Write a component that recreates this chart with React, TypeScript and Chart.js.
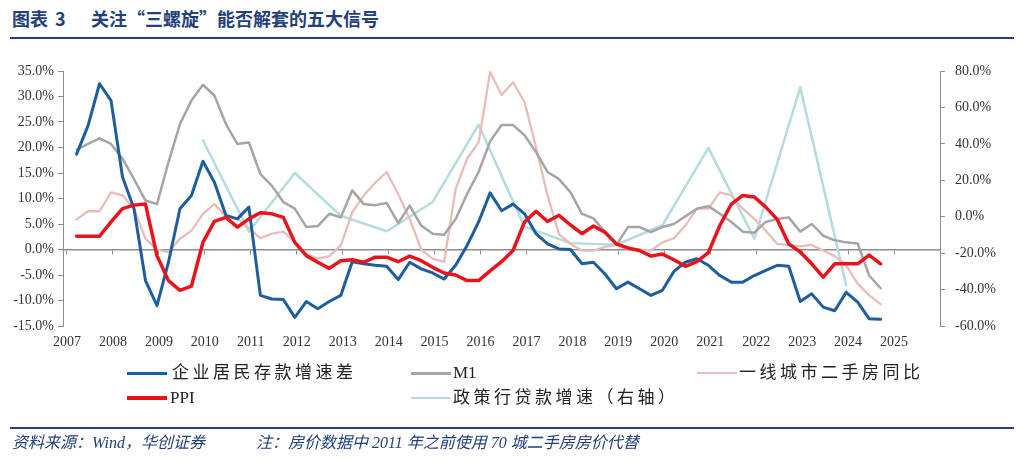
import React, { useEffect, useRef } from 'react';
import { Chart, registerables } from 'chart.js';

Chart.register(...registerables);

// ---------- text ----------
const TITLE_NO = '图表 3';
const TITLE_TEXT = '关注“三螺旋”能否解套的五大信号';
const SOURCE_TEXT = '资料来源：Wind，华创证券';
const NOTE_TEXT = '注：房价数据中 2011 年之前使用 70 城二手房房价代替';

const NAME_DEPOSIT = '企业居民存款增速差';
const NAME_M1 = 'M1';
const NAME_HOUSE = '一线城市二手房同比';
const NAME_PPI = 'PPI';
const NAME_POLICY = '政策行贷款增速（右轴）';

// ---------- axes ----------
const X_MIN = 2006.913;
const X_MAX = 2026.0;
const YEAR_TICKS = [2007, 2008, 2009, 2010, 2011, 2012, 2013, 2014, 2015, 2016, 2017, 2018, 2019, 2020, 2021, 2022, 2023, 2024, 2025];
const LEFT_MIN = -15;
const LEFT_MAX = 35;
const LEFT_STEP = 5;
const RIGHT_MIN = -60;
const RIGHT_MAX = 80;
const RIGHT_STEP = 20;

// ---------- data ----------
// quarterly observations, 2007Q1 .. 2024Q3
const FIRST_YEAR = 2007;
// 企业居民存款增速差 (%)
const DEPOSIT_GAP = [
  18.7, 24.3, 32.5, 29.2,
  14.2, 8.0, -6.1, -11.0,
  -2.5, 8.0, 10.6, 17.3,
  13.2, 6.7, 6.0, 8.3,
  -9.0, -9.7, -9.8, -13.3,
  -10.2, -11.6, -10.2, -9.0,
  -2.4, -2.8, -3.1, -3.3,
  -5.9, -2.5, -3.8, -4.6,
  -5.8, -3.1, 0.8, 5.4,
  11.1, 7.6, 8.9, 7.0,
  3.1, 1.1, 0.1, 0.0,
  -2.8, -2.5, -4.8, -7.7,
  -6.4, -7.7, -9.0, -8.0,
  -4.3, -2.5, -1.8, -3.1,
  -5.1, -6.4, -6.4, -5.1,
  -4.1, -3.1, -3.3, -10.2,
  -8.7, -11.3, -12.0, -8.4,
  -10.3, -13.6, -13.7,
];
// M1 同比 (%)
const M1 = [
  19.6, 20.7, 21.8, 20.7,
  17.8, 13.8, 9.6, 8.9,
  17.1, 24.6, 29.2, 32.3,
  30.2, 24.6, 20.7, 21.0,
  14.8, 12.5, 9.3, 8.0,
  4.4, 4.6, 7.0, 6.3,
  11.6, 8.9, 8.7, 9.1,
  5.2, 8.6, 4.7, 3.1,
  2.9, 6.0, 10.9, 15.2,
  21.2, 24.4, 24.4, 22.4,
  19.1, 15.2, 13.8, 11.2,
  7.0, 6.1, 3.4, 0.9,
  4.4, 4.4, 3.4, 4.4,
  5.0, 6.5, 8.0, 8.5,
  7.0, 5.4, 3.5, 3.3,
  5.4, 6.0, 6.3, 3.5,
  5.0, 2.7, 1.8, 1.4,
  1.2, -5.1, -7.6,
];
// 一线城市二手房同比 (%)
const HOUSE = [
  5.9, 7.5, 7.5, 11.2,
  10.6, 8.0, 2.1, 0.0,
  -0.5, 2.1, 3.7, 7.0,
  8.9, 6.5, 6.0, 4.2,
  2.2, 3.1, 3.5, 1.4,
  -0.9, -1.8, -1.3, 0.8,
  7.3, 10.6, 13.1, 15.2,
  10.9, 6.0, 0.0, -1.8,
  -2.4, 11.9, 17.8, 21.0,
  34.8, 30.3, 32.8, 28.9,
  20.0, 10.6, 3.0, 1.1,
  -0.2, -0.2, 0.5, 0.9,
  0.1, 0.0, -0.2, 1.4,
  2.2, 4.7, 8.0, 8.0,
  11.2, 10.6, 8.0, 6.0,
  3.7, 1.1, 0.9, 0.6,
  0.9, -0.2, -1.3, -3.1,
  -6.7, -9.0, -10.7,
];
// PPI 同比 (%)
const PPI = [
  2.6, 2.6, 2.6, 5.4,
  8.0, 8.7, 8.9, -1.2,
  -6.1, -8.0, -7.2, 1.4,
  5.5, 6.3, 4.4, 6.0,
  7.2, 7.0, 6.3, 1.4,
  -1.2, -2.5, -3.7, -2.2,
  -2.0, -2.5, -1.5, -1.5,
  -2.4, -1.3, -2.2, -3.5,
  -4.6, -5.0, -6.1, -6.1,
  -4.2, -2.4, -0.2, 5.4,
  7.5, 5.5, 6.7, 4.8,
  3.1, 4.6, 3.4, 1.1,
  0.3, -0.2, -1.3, -0.9,
  -2.0, -3.3, -2.4, -0.6,
  4.7, 8.9, 10.6, 10.3,
  8.3, 5.9, 1.1, -0.5,
  -2.8, -5.4, -2.8, -2.8,
  -2.8, -1.1, -2.8,
];
// 政策行贷款增速 (%, right axis), year-end observations
const POLICY_YEARS = [2009, 2010, 2011, 2012, 2013, 2014, 2015, 2016, 2017, 2018, 2019, 2020, 2021, 2022, 2023];
const POLICY = [42.0, -8.2, 24.0, 0.5, -8.0, 8.1, 50.5, -5.5, -14.5, -15.4, -4.7, 37.8, -12.1, 71.0, -37.7];

// ---------- colours ----------
const C_BLUE = '#1F5E9E';
const C_GRAY = '#A5A5A5';
const C_PINK = '#E8BCBB';
const C_RED = '#E8141B';
const C_LIGHT = '#B5DAE0';
const C_AXIS = '#8C8C8C';
const C_NAVY = '#24407A';

const TICK_FONT = { family: "'Liberation Serif', 'Times New Roman', serif", size: 14 };

// quarter index -> decimal year (mid of the quarter's last month)
const quarterX = (i: number) => FIRST_YEAR + Math.floor(i / 4) + ((i % 4) * 3 + 2.5) / 12;
const yearEndX = (y: number) => y + 11.5 / 12;

const LEGEND = [
  { name: NAME_DEPOSIT, color: C_BLUE, w: 3, lineLeft: 127, textLeft: 172, top: 373, ls: 3.5 },
  { name: NAME_M1, color: C_GRAY, w: 3, lineLeft: 411, textLeft: 453, top: 373, ls: 0 },
  { name: NAME_HOUSE, color: C_PINK, w: 2.5, lineLeft: 697, textLeft: 739, top: 373, ls: 3.5 },
  { name: NAME_PPI, color: C_RED, w: 3.5, lineLeft: 127, textLeft: 170, top: 398, ls: 0 },
  { name: NAME_POLICY, color: C_LIGHT, w: 2.5, lineLeft: 411, textLeft: 453, top: 398, ls: 3.5 },
];

export default function App() {
  const ref = useRef<HTMLCanvasElement>(null);

  useEffect(() => {
    const q = (arr: number[]) => arr.map((v, i) => ({ x: quarterX(i), y: v }));
    const yearTicks = (axis: any) => {
      axis.ticks = YEAR_TICKS.map((v) => ({ value: v }));
    };
    const chart = new Chart(ref.current as HTMLCanvasElement, {
      type: 'line',
      data: {
        datasets: [
          { label: NAME_PPI, data: q(PPI), borderColor: C_RED, borderWidth: 3.5, xAxisID: 'x', yAxisID: 'y', order: 0 },
          { label: NAME_DEPOSIT, data: q(DEPOSIT_GAP), borderColor: C_BLUE, borderWidth: 3, xAxisID: 'x', yAxisID: 'y', order: 1 },
          { label: NAME_M1, data: q(M1), borderColor: C_GRAY, borderWidth: 2.5, xAxisID: 'x', yAxisID: 'y', order: 2 },
          { label: NAME_HOUSE, data: q(HOUSE), borderColor: C_PINK, borderWidth: 2.3, xAxisID: 'x', yAxisID: 'y', order: 3 },
          {
            label: NAME_POLICY,
            data: POLICY.map((v, i) => ({ x: yearEndX(POLICY_YEARS[i]), y: v })),
            borderColor: C_LIGHT, borderWidth: 2.5, xAxisID: 'x', yAxisID: 'y1', order: 4,
          },
        ],
      },
      options: {
        animation: false,
        responsive: false,
        maintainAspectRatio: false,
        devicePixelRatio: 1,
        layout: { padding: { top: 71, bottom: 103, left: 0, right: 0 } },
        elements: { point: { radius: 0 }, line: { tension: 0, borderJoinStyle: 'round', borderCapStyle: 'round' } },
        plugins: { legend: { display: false }, tooltip: { enabled: false } },
        scales: {
          x: {
            type: 'linear', position: 'bottom', min: X_MIN, max: X_MAX,
            afterBuildTicks: yearTicks,
            afterFit: (s: any) => { s.height = 30; },
            grid: { display: false, drawTicks: false },
            border: { display: false },
            ticks: { autoSkip: false, maxRotation: 0, padding: 8, color: '#333', font: TICK_FONT, callback: (v: any) => String(v) },
          },
          xz: {
            type: 'linear', position: { y: 0 } as any, min: X_MIN, max: X_MAX,
            afterBuildTicks: yearTicks,
            grid: { drawOnChartArea: false, drawTicks: true, tickLength: 4, color: C_AXIS, lineWidth: 1 },
            border: { display: true, color: C_AXIS, width: 1.5 },
            ticks: { display: false },
          },
          y: {
            type: 'linear', position: 'left', min: LEFT_MIN, max: LEFT_MAX,
            afterFit: (s: any) => { s.width = 63; },
            grid: { drawOnChartArea: false, drawTicks: true, tickLength: 5, color: C_AXIS },
            border: { display: true, color: C_AXIS, width: 1 },
            ticks: { stepSize: LEFT_STEP, padding: 4, color: '#333', font: TICK_FONT, callback: (v: any) => Number(v).toFixed(1) + '%' },
          },
          y1: {
            type: 'linear', position: 'right', min: RIGHT_MIN, max: RIGHT_MAX,
            afterFit: (s: any) => { s.width = 84; },
            grid: { drawOnChartArea: false, drawTicks: true, tickLength: 5, color: C_AXIS },
            border: { display: true, color: C_AXIS, width: 1 },
            ticks: { stepSize: RIGHT_STEP, padding: 10, color: '#333', font: TICK_FONT, callback: (v: any) => Number(v).toFixed(1) + '%' },
          },
        },
      } as any,
    });
    return () => chart.destroy();
  }, []);

  const navyText: React.CSSProperties = {
    position: 'absolute', color: C_NAVY, whiteSpace: 'nowrap',
    fontFamily: "'Noto Sans CJK SC', sans-serif",
  };

  return (
    <div style={{ position: 'absolute', left: 0, top: 0, width: 1024, height: 459, background: '#fff', overflow: 'hidden' }}>
      <div style={{ ...navyText, left: 12, top: 6, fontSize: 18, fontWeight: 700, lineHeight: '24px', wordSpacing: 3 }}>{TITLE_NO}</div>
      <div style={{ ...navyText, left: 91, top: 6, fontSize: 18, fontWeight: 700, lineHeight: '24px' }}>{TITLE_TEXT}</div>
      <div style={{ position: 'absolute', left: 10, top: 37, width: 1004, height: 2, background: C_NAVY }} />

      <canvas ref={ref} width={1024} height={459} style={{ position: 'absolute', left: 0, top: 0, width: 1024, height: 459 }} />

      {LEGEND.map((l) => (
        <React.Fragment key={l.name}>
          <div style={{ position: 'absolute', left: l.lineLeft, top: l.top - l.w / 2, width: 40, height: l.w, background: l.color }} />
          <div style={{
            position: 'absolute', left: l.textLeft, top: l.top - 12, lineHeight: '24px', fontSize: 17, letterSpacing: l.ls,
            color: '#222', whiteSpace: 'nowrap', fontFamily: "'Liberation Serif', 'Noto Sans CJK SC', serif",
          }}>{l.name}</div>
        </React.Fragment>
      ))}

      <div style={{ position: 'absolute', left: 10, top: 427, width: 1004, height: 2, background: C_NAVY }} />
      <div style={{ ...navyText, left: 12, top: 432, fontSize: 16, fontStyle: 'italic', lineHeight: '22px', fontFamily: "'Liberation Serif', 'Noto Sans CJK SC', serif" }}>{SOURCE_TEXT}</div>
      <div style={{ ...navyText, left: 256, top: 432, fontSize: 16, fontStyle: 'italic', lineHeight: '22px', fontFamily: "'Liberation Serif', 'Noto Sans CJK SC', serif" }}>{NOTE_TEXT}</div>
    </div>
  );
}
